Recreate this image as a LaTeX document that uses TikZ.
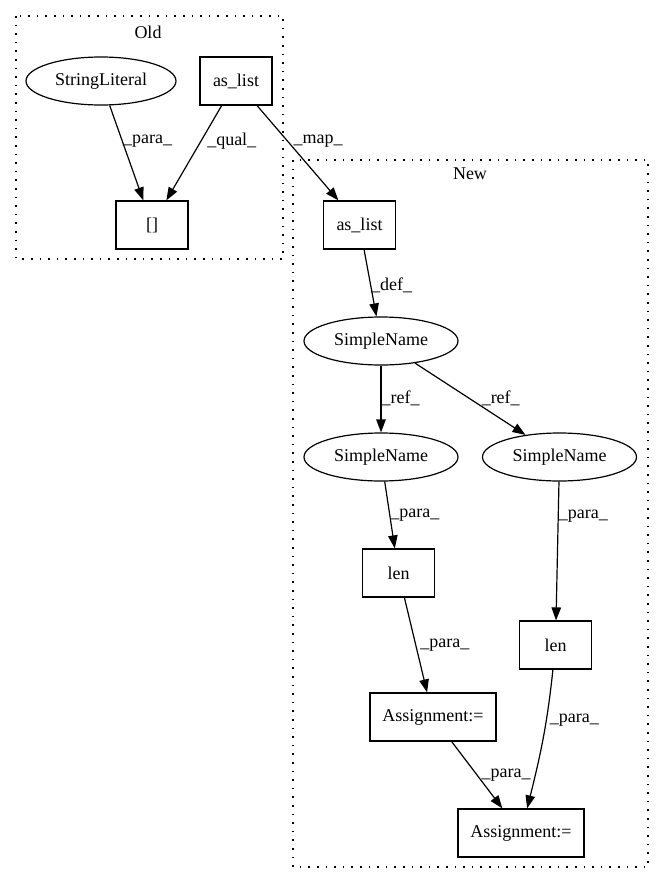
\documentclass[tikz,border=0pt]{standalone}
\usepackage{fontspec}
\setmainfont{Liberation Serif}
\usetikzlibrary{shapes.geometric,arrows.meta}

\begin{document}
\begin{tikzpicture}[x=1pt,y=-1pt,
    font=\fontsize{18pt}{22pt}\selectfont,
    box/.style={draw,rectangle,line width=1.2pt,minimum width=72pt,
        minimum height=48pt,inner sep=0pt},
    oval/.style={draw,ellipse,line width=1.2pt,minimum height=48pt,
        inner sep=0pt},
    edge/.style={-{Triangle[length=13pt,width=9.5pt]},line width=1.2pt},
    lbl/.style={anchor=west,inner sep=0pt},
    cluster/.style={line width=1.4pt,dash pattern=on 1.6pt off 7pt}]
    \useasboundingbox (0,0) rectangle (664,884);

    % clusters
    \draw[cluster] (16,16) rectangle (283,259);
    \node (oldlbl) at (148,32) {Old};
    \draw[cluster] (293,160) rectangle (648,867);
    \node (newlbl) at (470,174) {New};

    % Old
    \node[oval,minimum width=150pt] (strlit) at (101,81) {StringLiteral};
    \node[box] (aslistOld) at (236,81) {as\_list};
    \node[box] (idx) at (152,225) {[]};

    % New
    \node[box] (aslistNew) at (359.5,225) {as\_list};
    \node[oval,minimum width=154pt] (sname) at (381,341) {SimpleName};
    \node[oval,minimum width=154pt] (snameL) at (381,457) {SimpleName};
    \node[oval,minimum width=154pt] (snameR) at (559.5,457) {SimpleName};
    \node[box] (lenL) at (398.5,573) {len};
    \node[box] (lenR) at (555.5,645) {len};
    \node[box,minimum width=126pt] (assignL) at (433,717) {Assignment:=};
    \node[box,minimum width=126pt] (assignB) at (521,833) {Assignment:=};

    \draw[edge] (strlit) -- node[lbl,pos=.38] {\_para\_} (idx);
    \draw[edge] (aslistOld) -- node[lbl,pos=.38,xshift=6pt] {\_qual\_} (idx);
    \draw[edge] (aslistOld) -- node[lbl,pos=.38,xshift=5pt] {\_map\_} (aslistNew);
    \draw[edge] (aslistNew) -- node[lbl,pos=.53] {\_def\_} (sname);
    \draw[edge] (sname) -- node[lbl,pos=.49] {\_ref\_} (snameL);
    \draw[edge] (sname) -- node[lbl,pos=.49,xshift=12pt] {\_ref\_} (snameR);
    \draw[edge] (snameL) -- node[lbl,pos=.51] {\_para\_} (lenL);
    \draw[edge] (snameR) -- node[lbl,pos=.25] {\_para\_} (lenR);
    \draw[edge] (lenL) -- node[lbl,pos=.5,xshift=4pt] {\_para\_} (assignL);
    \draw[edge] (lenR) to[out=-96,in=76] node[lbl,pos=.35,xshift=3pt] {\_para\_} (assignB);
    \draw[edge] (assignL) -- node[lbl,pos=.5,xshift=4pt] {\_para\_} (assignB);

\end{tikzpicture}
\end{document}
